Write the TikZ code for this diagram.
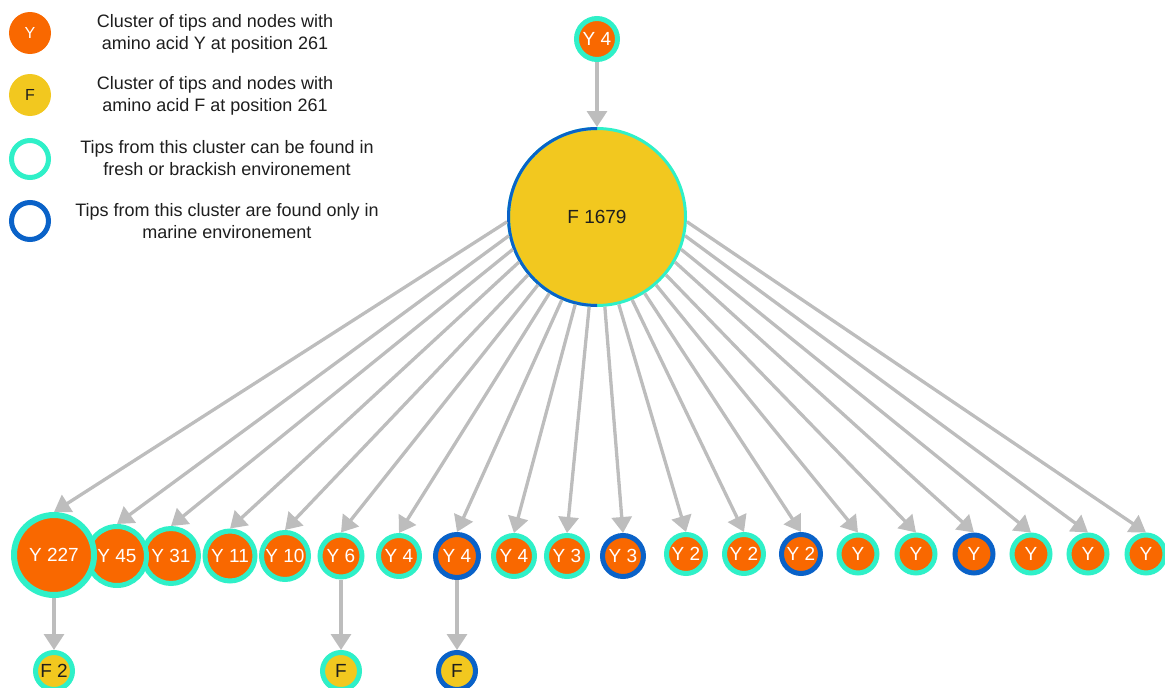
\documentclass[tikz,border=0pt]{standalone}
\usepackage{fontspec}
\setmainfont{Liberation Sans}
\usetikzlibrary{arrows.meta,calc}
\definecolor{orangeC}{HTML}{F96800}
\definecolor{yellowC}{HTML}{F2C81F}
\definecolor{cyanC}{HTML}{2FF0C8}
\definecolor{blueC}{HTML}{0A62C8}
\definecolor{edgeC}{HTML}{BDBDBD}
\definecolor{textC}{HTML}{1E1E1E}
\tikzset{
  nd/.style 2 args={circle, inner sep=0pt, line width=#2pt, minimum size=2*#1pt-#2pt, outer sep=0.5*#2pt, font=\fontsize{19}{22}\selectfont},
  yc/.style={fill=orangeC, draw=cyanC, text=white},
  yb/.style={fill=orangeC, draw=blueC, text=white},
  fc/.style={fill=yellowC, draw=cyanC, text=textC},
  fb/.style={fill=yellowC, draw=blueC, text=textC},
  conn/.style={draw=edgeC, line width=3.3pt, -{Triangle[length=16pt,width=20pt]}},
  legtext/.style={align=center, font=\fontsize{18}{22}\selectfont, text=textC},
  legdot/.style={circle, inner sep=0pt, minimum size=42pt, font=\fontsize{16}{16}\selectfont},
}
\begin{document}
\begin{tikzpicture}[x=1pt,y=-1pt]
\useasboundingbox (0,0) rectangle (1165,688);

% legend
\node[legdot, fill=orangeC, text=white] (lY) at (30,33) {Y};
\node[legdot, fill=yellowC, text=textC] (lF) at (30,95) {F};
\node[nd={21}{5}, draw=cyanC, fill=white] (lC) at (30,159) {};
\node[nd={21}{5}, draw=blueC, fill=white] (lB) at (30,221) {};
\node[legtext] (tY) at (215,34) {Cluster of tips and nodes with\\amino acid Y at position 261};
\node[legtext] (tF) at (215,96) {Cluster of tips and nodes with\\amino acid F at position 261};
\node[legtext] (tC) at (227,158) {Tips from this cluster can be found in\\fresh or brackish environement};
\node[legtext] (tB) at (227,221) {Tips from this cluster are found only in\\marine environement};

% big node
\node[circle, inner sep=0pt, minimum size=177pt, line width=3pt, outer sep=1.5pt, fill=yellowC, draw=cyanC, text=textC, font=\fontsize{19}{22}\selectfont] (big) at (597,217) {F 1679};
\begin{scope}
\clip ($(big.north)+(0,-6)$) rectangle ($(big.south)+(-100,6)$);
\node[circle, inner sep=0pt, minimum size=177pt, line width=3pt, draw=blueC] (bigL) at (big.center) {};
\end{scope}

% top node
\node[nd={23}{5}, yc] (top) at (597,39) {Y 4};

% bottom row (drawn right to left so left nodes lie on top)
\node[nd={21.5}{5}, yc] (b20) at (1146,554) {Y};
\node[nd={21.5}{5}, yc] (b19) at (1088,554) {Y};
\node[nd={21.5}{5}, yc] (b18) at (1031,554) {Y};
\node[nd={21.5}{5}, yb] (b17) at (974,554) {Y};
\node[nd={21.5}{5}, yc] (b16) at (916,554) {Y};
\node[nd={21.5}{5}, yc] (b15) at (858,554) {Y};
\node[nd={22}{5}, yb] (b14) at (801,554) {Y 2};
\node[nd={22}{5}, yc] (b13) at (744,554) {Y 2};
\node[nd={22}{5}, yc] (b12) at (686,554) {Y 2};
\node[nd={23}{5}, yb] (b11) at (623,556) {Y 3};
\node[nd={23}{5}, yc] (b10) at (567,556) {Y 3};
\node[nd={23}{5}, yc] (b9) at (514,556) {Y 4};
\node[nd={24}{5}, yb] (b8) at (457,556) {Y 4};
\node[nd={23}{5}, yc] (b7) at (399,556) {Y 4};
\node[nd={23.5}{5}, yc] (b6) at (341,556) {Y 6};
\node[nd={26}{5}, yc] (b5) at (285,556) {Y 10};
\node[nd={27.5}{5}, yc] (b4) at (230,556) {Y 11};
\node[nd={30}{5}, yc] (b3) at (171,556) {Y 31};
\node[nd={32}{5}, yc] (b2) at (117,556) {Y 45};
\node[nd={43}{6}, yc] (b1) at (54,555) {Y 227};

% children
\node[nd={21}{5}, fc] (f1) at (54,671) {F 2};
\node[nd={21}{5}, fc] (f2) at (341,671) {F};
\node[nd={21}{5}, fb] (f3) at (457,671) {F};

% connectors
\draw[conn] (top) -- (big);
\foreach \i in {1,...,20}{
  \pgfmathtruncatemacro\ang{round(183+(\i-1)*174/19)}
  \draw[conn] (big.\ang) -- (b\i.north);
}
\draw[conn] (b1) -- (f1);
\draw[conn] (b6) -- (f2);
\draw[conn] (b8) -- (f3);
\end{tikzpicture}
\end{document}
